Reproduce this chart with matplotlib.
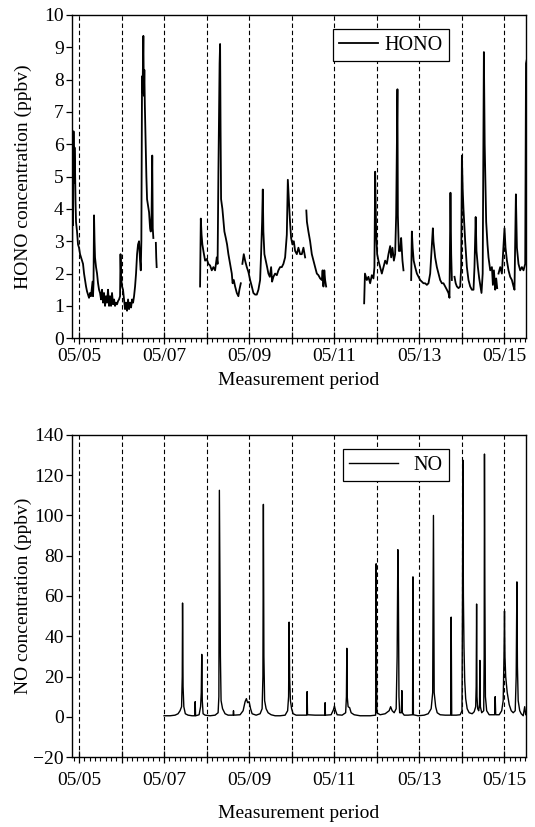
import matplotlib
matplotlib.use('Agg')
import matplotlib.pyplot as plt
from matplotlib.ticker import MultipleLocator
import numpy as np

plt.rcParams['font.family'] = ['Liberation Serif', 'DejaVu Serif']
plt.rcParams['font.size'] = 14

# time in days since 05/05 00:00
hono_t = [-0.165, -0.153, -0.141, -0.129, -0.118, -0.106, -0.094, -0.082, -0.071, -0.047,
          -0.024, 0.000, 0.024, 0.047, 0.071, 0.094, 0.118, 0.141, 0.165, 0.188,
          0.212, 0.235, 0.259, 0.282, 0.306, 0.318, 0.329, 0.341, 0.353, 0.365,
          0.376, 0.400, 0.424, 0.447, 0.471, 0.494, 0.518, 0.541, 0.565, 0.588,
          0.612, 0.635, 0.659, 0.682, 0.706, 0.729, 0.753, 0.776, 0.800, 0.824,
          0.847, 0.871, 0.894, 0.918, 0.941, 0.965, 0.976, 0.988, 1.012, 1.035,
          1.059, 1.082, 1.106, 1.129, 1.153, 1.176, 1.200, 1.224, 1.247, 1.271,
          1.294, 1.318, 1.341, 1.365, 1.388, 1.412, 1.435, 1.452, 1.466, 1.482,
          1.494, 1.513, 1.525, 1.536, 1.548, 1.565, 1.584, 1.600, 1.624, 1.647,
          1.671, 1.687, 1.706, 1.722, 1.734, 1.748, 1.760, 1.807, 1.816, 1.826,
          1.840,
          2.847, 2.864, 2.882, 2.901, 2.925, 2.965, 3.005, 3.042, 3.082, 3.122,
          3.160, 3.200, 3.240, 3.259, 3.278, 3.294, 3.306, 3.318, 3.329, 3.341,
          3.372, 3.419, 3.452, 3.482, 3.513, 3.553, 3.593, 3.612, 3.640, 3.671,
          3.711, 3.748, 3.772, 3.805, 3.820, 3.842, 3.875, 3.906, 3.946, 3.984,
          4.024, 4.064, 4.101, 4.141, 4.181, 4.219, 4.259, 4.282, 4.306, 4.322,
          4.336, 4.360, 4.393, 4.424, 4.454, 4.487, 4.518, 4.541, 4.572, 4.612,
          4.652, 4.689, 4.729, 4.769, 4.807, 4.847, 4.887, 4.911, 4.934, 4.958,
          4.988, 5.019, 5.052, 5.082, 5.122, 5.160, 5.200, 5.240, 5.278, 5.318,
          5.330, 5.346, 5.360, 5.395, 5.435, 5.475, 5.513, 5.553, 5.593, 5.631,
          5.671, 5.711, 5.729, 5.748, 5.769, 5.788, 5.812, 5.830,
          6.706, 6.725, 6.769, 6.807, 6.847, 6.887, 6.925, 6.948, 6.965, 6.988,
          7.012, 7.042, 7.082, 7.122, 7.160, 7.200, 7.240, 7.278, 7.318, 7.341,
          7.372, 7.405, 7.435, 7.459, 7.475, 7.489, 7.499, 7.522, 7.553, 7.576,
          7.607, 7.631, 7.650,
          7.812, 7.828, 7.847, 7.871, 7.906, 7.946, 7.984, 8.024, 8.064, 8.101,
          8.141, 8.181, 8.219, 8.259, 8.299, 8.322, 8.336, 8.376, 8.416, 8.454,
          8.494, 8.534, 8.572, 8.612, 8.652, 8.689, 8.713, 8.736, 8.753, 8.769,
          8.800, 8.831, 8.859, 8.887, 8.925, 8.965, 8.988, 9.005, 9.024, 9.042,
          9.082, 9.122, 9.160, 9.200, 9.240, 9.278, 9.301, 9.329, 9.348, 9.381,
          9.412, 9.442, 9.466, 9.494, 9.522, 9.541, 9.553, 9.576, 9.607, 9.631,
          9.671, 9.711, 9.734, 9.758, 9.788, 9.812, 9.835, 9.850, 9.866, 9.906,
          9.946, 9.984, 10.007, 10.031, 10.064, 10.101, 10.141, 10.181, 10.219, 10.242,
          10.275, 10.299, 10.336, 10.376, 10.416, 10.454, 10.494, 10.513, 10.529]

nan = np.nan
hono = [1.4, 4.6, 3.5, 6.4, 4.8, 5.9, 5.3, 4.2, 3.6, 3.3,
        2.9, 2.8, 2.6, 2.5, 2.4, 2.3, 2.0, 1.8, 1.6, 1.45,
        1.35, 1.25, 1.4, 1.3, 1.6, 1.75, 1.3, 1.7, 3.8, 3.0,
        2.5, 2.2, 2.0, 1.7, 1.5, 1.4, 1.2, 1.5, 1.1, 1.4,
        1.0, 1.3, 1.1, 1.5, 1.0, 1.3, 1.0, 1.4, 1.05, 1.2,
        1.0, 1.1, 1.05, 1.15, 1.2, 1.3, 2.6, 1.9, 1.6, 1.5,
        1.2, 0.9, 1.1, 0.85, 1.2, 0.9, 1.1, 0.95, 1.2, 1.1,
        1.3, 1.6, 2.0, 2.6, 2.9, 3.0, 2.4, 2.1, 3.0, 8.1,
        7.6, 9.35, 7.5, 8.3, 7.2, 6.2, 5.0, 4.3, 4.1, 3.9,
        3.4, 3.3, 3.8, 5.65, 3.4, 3.1, nan, 2.95, 2.5, 2.2,
        nan,
        1.6, 3.7, 3.2, 2.9, 2.7, 2.4, 2.45, 2.3, 2.25, 2.1,
        2.2, 2.1, 2.5, 2.3, 5.1, 7.0, 8.5, 9.1, 6.5, 4.3,
        4.0, 3.3, 3.1, 2.9, 2.6, 2.3, 2.0, 1.7, 1.8, 1.6,
        1.4, 1.3, 1.5, 1.7, nan, 2.3, 2.6, 2.4, 2.2, 2.05,
        1.8, 1.6, 1.4, 1.35, 1.35, 1.5, 1.8, 2.6, 3.6, 4.6,
        3.3, 2.6, 2.4, 2.2, 2.0, 1.9, 2.2, 1.75, 1.9, 2.0,
        1.95, 2.1, 2.2, 2.2, 2.3, 2.5, 3.2, 4.9, 4.3, 3.7,
        3.1, 2.9, 3.0, 2.7, 2.6, 2.8, 2.6, 2.6, 2.8, 2.5,
        nan, 3.95, 3.6, 3.3, 3.0, 2.6, 2.4, 2.2, 2.0, 1.95,
        1.85, 1.8, 2.1, 1.6, 2.1, 1.8, 1.6, nan,
        1.08, 2.0, 1.8, 1.9, 1.7, 1.95, 1.85, 2.2, 5.15, 3.3,
        2.6, 2.4, 2.2, 2.0, 2.2, 2.4, 2.3, 2.6, 2.85, 2.5,
        2.8, 2.4, 2.6, 3.8, 6.0, 7.7, 3.8, 2.7, 2.7, 3.1,
        2.4, 2.1, nan,
        1.8, 3.3, 2.8, 2.4, 2.2, 2.0, 1.9, 1.8, 1.75, 1.7,
        1.7, 1.65, 1.7, 2.0, 2.9, 3.4, 3.0, 2.5, 2.2, 2.0,
        1.8, 1.7, 1.7, 1.6, 1.5, 1.4, 1.25, 4.5, 2.6, 1.8,
        nan, 1.9, 1.7, 1.6, 1.55, 1.6, 2.2, 5.65, 4.6, 4.0,
        3.0, 2.2, 1.8, 1.6, 1.5, 1.5, 2.2, 3.75, 2.7, 2.2,
        1.85, 1.6, 1.4, 2.0, 8.85, 6.0, 5.2, 3.6, 2.9, 2.5,
        2.1, 2.2, 1.65, 2.1, 1.5, 1.85, 1.55, nan, 2.0, 2.2,
        2.0, 2.9, 3.4, 2.8, 2.4, 2.1, 1.9, 1.8, 1.6, 1.5,
        4.45, 2.8, 2.3, 2.1, 2.2, 2.1, 2.3, 8.5, 8.6]

no_t = [2.000, 2.141, 2.259, 2.329, 2.376, 2.412, 2.428, 2.435, 2.447, 2.465,
        2.500, 2.565, 2.659, 2.725, 2.732, 2.741, 2.824, 2.859, 2.875, 2.887,
        2.899, 2.918, 2.965, 3.082, 3.200, 3.271, 3.289, 3.301, 3.313, 3.325,
        3.341, 3.376, 3.435, 3.506, 3.624, 3.633, 3.642, 3.788, 3.859, 3.906,
        3.936, 3.965, 4.000, 4.035, 4.071, 4.165, 4.259, 4.306, 4.325, 4.336,
        4.348, 4.365, 4.400, 4.447, 4.518, 4.612, 4.729, 4.847, 4.906, 4.929,
        4.941, 4.953, 4.972, 5.000, 5.035, 5.106, 5.200, 5.355, 5.365, 5.374,
        5.553, 5.781, 5.788, 5.795, 5.929, 5.984, 6.007, 6.035, 6.071, 6.188,
        6.271, 6.289, 6.299, 6.308, 6.329, 6.365, 6.400, 6.471, 6.612, 6.847,
        6.976, 6.984, 6.988, 6.995, 7.005, 7.082, 7.200, 7.294, 7.329, 7.365,
        7.412, 7.459, 7.482, 7.499, 7.511, 7.525, 7.541, 7.581, 7.593, 7.605,
        7.647, 7.741, 7.845, 7.854, 7.864, 7.976, 8.118, 8.212, 8.282, 8.318,
        8.336, 8.353, 8.388, 8.424, 8.494, 8.612, 8.741, 8.753, 8.765, 8.871,
        8.965, 9.007, 9.019, 9.028, 9.040, 9.054, 9.071, 9.094, 9.129, 9.176,
        9.247, 9.294, 9.329, 9.341, 9.351, 9.360, 9.376, 9.400, 9.419, 9.428,
        9.440, 9.471, 9.518, 9.529, 9.536, 9.546, 9.558, 9.588, 9.647, 9.776,
        9.788, 9.800, 9.882, 9.941, 9.976, 9.995, 10.007, 10.018, 10.035, 10.071,
        10.118, 10.165, 10.212, 10.259, 10.282, 10.299, 10.311, 10.329, 10.365, 10.400,
        10.447, 10.482, 10.506, 10.529]

no = [0.5, 0.5, 0.8, 1.5, 3, 5, 20, 56.5, 15, 5,
      1.5, 0.8, 0.5, 0.5, 7.5, 0.5, 1, 5, 12, 31,
      8, 1.5, 0.8, 0.5, 0.8, 2, 10, 112.5, 68, 30,
      8, 4, 1.5, 0.8, 0.8, 3, 0.8, 1, 3, 7.5,
      9, 7, 7.5, 4, 1.5, 0.8, 1.5, 4, 20, 105.5,
      30, 8, 4, 2, 1, 0.5, 0.5, 0.8, 3, 10,
      47, 20, 8, 4, 1.5, 0.8, 0.8, 0.8, 12.5, 1,
      0.8, 0.8, 7, 0.8, 1, 3.5, 5.3, 3, 1, 0.8,
      2, 10, 34, 10, 5, 4.5, 2, 1, 0.5, 0.5,
      0.8, 40, 76, 30, 2, 1, 1.5, 3, 5, 3,
      2, 4, 30, 83, 62, 10, 2, 2, 13, 2,
      0.8, 0.8, 1, 69.5, 1, 0.5, 0.8, 1.5, 4, 12,
      100, 12, 5, 2, 1, 0.8, 0.8, 49.5, 0.8, 0.8,
      1, 3, 60, 127.5, 60, 35, 18, 9, 4, 2,
      1.5, 2.5, 5, 15, 56, 10, 4, 3, 6, 28,
      5, 2, 3, 30, 130.5, 60, 10, 3, 1, 1,
      10, 1, 1, 3, 8, 30, 52.5, 30, 20, 12,
      6, 3, 2, 3, 20, 67, 25, 8, 3, 1.5,
      0.5, 5, 1, 1]

day_ticks = list(range(0, 11))
day_labels = ['05/05', '', '05/07', '', '05/09', '', '05/11', '', '05/13', '', '05/15']
xlim = (-0.165, 10.518)

fig = plt.figure(figsize=(5.35, 8.27), dpi=100)
ax1 = fig.add_axes([0.1346, 0.591, 0.849, 0.391])
ax2 = fig.add_axes([0.1346, 0.0846, 0.849, 0.3895])


def style(ax, tickpad, xpad):
    for d in day_ticks:
        ax.axvline(d, color='black', ls=(0, (4, 2.5)), lw=0.8, zorder=1)
    ax.set_xlim(*xlim)
    ax.set_xticks(day_ticks)
    ax.set_xticklabels(day_labels)
    ax.xaxis.set_minor_locator(MultipleLocator(1 / 8))
    ax.tick_params(axis='x', which='major', direction='inout', length=8, width=0.9, pad=tickpad)
    ax.tick_params(axis='x', which='minor', direction='out', length=3, width=0.8)
    ax.tick_params(axis='y', which='major', direction='out', length=4, width=0.9, pad=2)
    for s in ax.spines.values():
        s.set_linewidth(1.0)
    ax.set_xlabel('Measurement period', labelpad=xpad)


ax1.plot(hono_t, hono, color='black', lw=1.3, label='HONO', zorder=2)
style(ax1, 3, 5)
ax1.set_ylim(0, 10)
ax1.set_yticks(range(0, 11))
ax1.set_ylabel('HONO concentration (ppbv)')
ax1.yaxis.set_label_coords(-0.088, 0.5)
leg = ax1.legend(loc='upper right', bbox_to_anchor=(0.83, 0.955), fancybox=False,
                 edgecolor='black', framealpha=1, handlelength=1.9, handletextpad=0.35,
                 borderpad=0.3, borderaxespad=0, fontsize=14.5)
leg.get_frame().set_linewidth(0.9)

ax2.plot(no_t, no, color='black', lw=1.0, label='NO', zorder=2)
style(ax2, 7, 11)
ax2.set_ylim(-20, 140)
ax2.set_yticks(range(-20, 141, 20))
ax2.set_ylabel('NO concentration (ppbv)')
ax2.yaxis.set_label_coords(-0.088, 0.5)
leg = ax2.legend(loc='upper right', bbox_to_anchor=(0.83, 0.955), fancybox=False,
                 edgecolor='black', framealpha=1, handlelength=2.4, handletextpad=0.8,
                 borderpad=0.3, borderaxespad=0, fontsize=14.5)
leg.get_frame().set_linewidth(0.9)

fig.savefig('out.png', dpi=100)
